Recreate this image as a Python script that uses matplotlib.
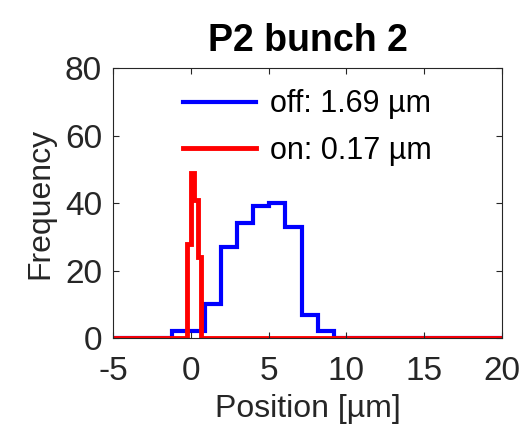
import matplotlib
matplotlib.use('Agg')
import matplotlib.pyplot as plt

# histogram data
off_edges = [-5, -1.2, -0.16, 0.88, 1.92, 2.96, 4.0, 5.04, 6.08, 7.12, 8.16, 9.2, 20]
off_counts = [0, 2, 2, 10, 27, 34, 39, 40, 33, 7, 2, 0]
on_edges = [-5, -0.26, -0.02, 0.22, 0.46, 0.68, 20]
on_counts = [0, 28, 49, 41, 24, 0]

labels = ['off: 1.69 \u00b5m', 'on: 0.17 \u00b5m']
x_ticks = [-5, 0, 5, 10, 15, 20]
y_ticks = [0, 20, 40, 60, 80]

plt.rcParams['font.family'] = ['Liberation Sans', 'DejaVu Sans']
plt.rcParams['axes.unicode_minus'] = False

fig = plt.figure(figsize=(5.28, 4.33), dpi=100)
ax = fig.add_axes([0.214, 0.219, 0.737, 0.624])

ax.stairs(off_counts, off_edges, color='#0000ff', lw=3, baseline=None, label=labels[0])
ax.stairs(on_counts, on_edges, color='#ff0000', lw=3.5, baseline=None, label=labels[1])

ax.set_xlim(-5, 20)
ax.set_ylim(0, 80)
ax.set_xticks(x_ticks)
ax.set_yticks(y_ticks)
ax.tick_params(direction='in', top=True, right=True, length=4, width=0.8,
               labelsize=24, colors='#262626')
ax.tick_params(axis='x', pad=13)
ax.tick_params(axis='y', pad=8)
for s in ax.spines.values():
    s.set_color('#262626')
    s.set_linewidth(0.8)

ax.set_xlabel('Position [\u00b5m]', fontsize=23, color='#262626', labelpad=5)
ax.set_ylabel('Frequency', fontsize=23, color='#262626', labelpad=7)
ax.set_title('P2 bunch 2', fontsize=27, fontweight='bold', pad=12)

ax.legend(loc='upper center', frameon=False, fontsize=22, handlelength=2.4,
          handletextpad=0.45, labelspacing=0.55, borderaxespad=0.3)

fig.savefig('out.png', dpi=100)
